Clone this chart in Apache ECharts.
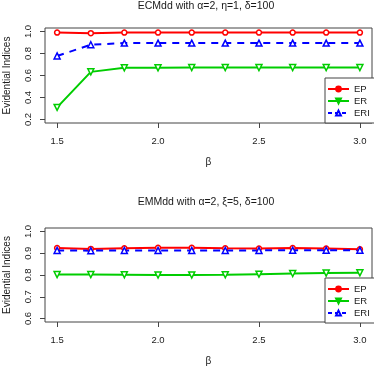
<!DOCTYPE html>
<html>
<head>
<meta charset="utf-8">
<script src="https://cdn.jsdelivr.net/npm/echarts@6/dist/echarts.min.js"></script>
<style>
html,body{margin:0;padding:0;background:#fff;}
#chart{width:374px;height:366px;}
</style>
</head>
<body>
<div id="chart"></div>
<script>
// ---- data ----
const betas = [1.5, 1.667, 1.833, 2.0, 2.167, 2.333, 2.5, 2.667, 2.833, 3.0];
const xTicks = [1.5, 2.0, 2.5, 3.0];

const topTitle = 'ECMdd with α=2, η=1, δ=100';
const topEP  = [0.99, 0.985, 0.99, 0.99, 0.99, 0.99, 0.99, 0.99, 0.99, 0.99];
const topER  = [0.31, 0.633, 0.67, 0.67, 0.672, 0.672, 0.672, 0.672, 0.672, 0.672];
const topERI = [0.778, 0.88, 0.895, 0.895, 0.895, 0.895, 0.895, 0.895, 0.895, 0.895];
const topYTicks = [0.2, 0.4, 0.6, 0.8, 1.0];

const botTitle = 'EMMdd with α=2, ξ=5, δ=100';
const botEP  = [0.924, 0.92, 0.923, 0.925, 0.925, 0.923, 0.922, 0.924, 0.922, 0.918];
const botER  = [0.802, 0.802, 0.801, 0.8, 0.8, 0.801, 0.804, 0.807, 0.809, 0.81];
const botERI = [0.913, 0.912, 0.913, 0.913, 0.913, 0.913, 0.913, 0.914, 0.914, 0.914];
const botYTicks = [0.6, 0.7, 0.8, 0.9, 1.0];

const seriesNames = ['EP', 'ER', 'ERI'];
const xName = 'β';
const yName = 'Evidential Indices';

// ---- chart ----
const TXT = '#1a1a1a';
const FONT = 'Liberation Sans, Arial, sans-serif';
const colors = {EP: '#ff0000', ER: '#00cd00', ERI: '#0000ff'};

function pairs(ys, hollow) {
  return betas.map((b, i) => hollow ? {value: [b, ys[i]], itemStyle: {color: '#fff'}} : [b, ys[i]]);
}
function ext(ticks) {
  const lo = ticks[0], hi = ticks[ticks.length - 1], d = (hi - lo) * 0.04;
  return [lo - d, hi + d];
}
const xr = ext(xTicks);

function xAxis(gi) {
  return {
    type: 'value', gridIndex: gi, min: xr[0], max: xr[1],
    splitLine: {show: false},
    axisLine: {show: false},
    axisTick: {show: true, length: 5, customValues: xTicks, lineStyle: {color: '#444'}},
    axisLabel: {customValues: xTicks, margin: 13, color: TXT, fontSize: 9.5, fontFamily: FONT,
      formatter: v => v.toFixed(1)},
    name: xName, nameLocation: 'middle', nameGap: 34,
    nameTextStyle: {color: TXT, fontSize: 10, fontFamily: FONT}
  };
}
function yAxis(gi, ticks) {
  const r = ext(ticks);
  return {
    type: 'value', gridIndex: gi, min: r[0], max: r[1],
    splitLine: {show: false},
    axisLine: {show: false},
    axisTick: {show: true, length: 5, customValues: ticks, lineStyle: {color: '#444'}},
    axisLabel: {customValues: ticks, margin: 12, rotate: 90, color: TXT, fontSize: 9.5, fontFamily: FONT,
      align: 'center', verticalAlign: 'bottom', formatter: v => v.toFixed(1)},
    name: yName, nameLocation: 'middle', nameGap: 33,
    nameTextStyle: {color: TXT, fontSize: 10, fontFamily: FONT}
  };
}
function makeSeries(gi, ep, er, eri) {
  return [
    {name: 'EP', type: 'line', xAxisIndex: gi, yAxisIndex: gi, data: pairs(ep, true),
     symbol: 'circle', symbolSize: 5,
     lineStyle: {width: 2, color: colors.EP},
     itemStyle: {color: colors.EP, borderColor: colors.EP, borderWidth: 1.5}},
    {name: 'ER', type: 'line', xAxisIndex: gi, yAxisIndex: gi, data: pairs(er, true),
     symbol: 'triangle', symbolRotate: 180, symbolSize: 6,
     lineStyle: {width: 2, color: colors.ER},
     itemStyle: {color: colors.ER, borderColor: colors.ER, borderWidth: 1.5}},
    {name: 'ERI', type: 'line', xAxisIndex: gi, yAxisIndex: gi, data: pairs(eri, false),
     symbol: 'triangle', symbolSize: 6,
     lineStyle: {width: 2, color: colors.ERI, type: [7, 6]},
     itemStyle: {color: '#fff', borderColor: colors.ERI, borderWidth: 1.5}}
  ];
}
function legend(top) {
  return {
    orient: 'vertical', left: 325, top: top,
    backgroundColor: '#fff', borderColor: '#444', borderWidth: 1,
    padding: [6, 30, 5, 2], itemGap: 2, itemWidth: 21, itemHeight: 6,
    textStyle: {color: TXT, fontSize: 9.5, fontFamily: FONT},
    data: [seriesNames[0], seriesNames[1],
      {name: seriesNames[2], lineStyle: {type: [4, 3], width: 2, color: colors.ERI}}],
    selectedMode: false
  };
}

const chart = echarts.init(document.getElementById('chart'), null, {renderer: 'canvas'});
chart.setOption({
  animation: false,
  backgroundColor: '#fff',
  grid: [
    {left: 45, top: 28, right: 2, height: 95, show: true, borderColor: '#444', borderWidth: 1,
     backgroundColor: 'transparent', containLabel: false, outerBoundsMode: 'none'},
    {left: 45, top: 228, right: 2, height: 94, show: true, borderColor: '#444', borderWidth: 1,
     backgroundColor: 'transparent', containLabel: false, outerBoundsMode: 'none'}
  ],
  title: [
    {text: topTitle, left: 206, top: 1, padding: 0, textAlign: 'center',
     textStyle: {color: TXT, fontSize: 10.5, fontWeight: 'normal', fontFamily: FONT}},
    {text: botTitle, left: 206, top: 197, padding: 0, textAlign: 'center',
     textStyle: {color: TXT, fontSize: 10.5, fontWeight: 'normal', fontFamily: FONT}}
  ],
  legend: [legend(78), legend(278)],
  xAxis: [xAxis(0), xAxis(1)],
  yAxis: [yAxis(0, topYTicks), yAxis(1, botYTicks)],
  series: [].concat(makeSeries(0, topEP, topER, topERI), makeSeries(1, botEP, botER, botERI))
});
</script>
</body>
</html>
